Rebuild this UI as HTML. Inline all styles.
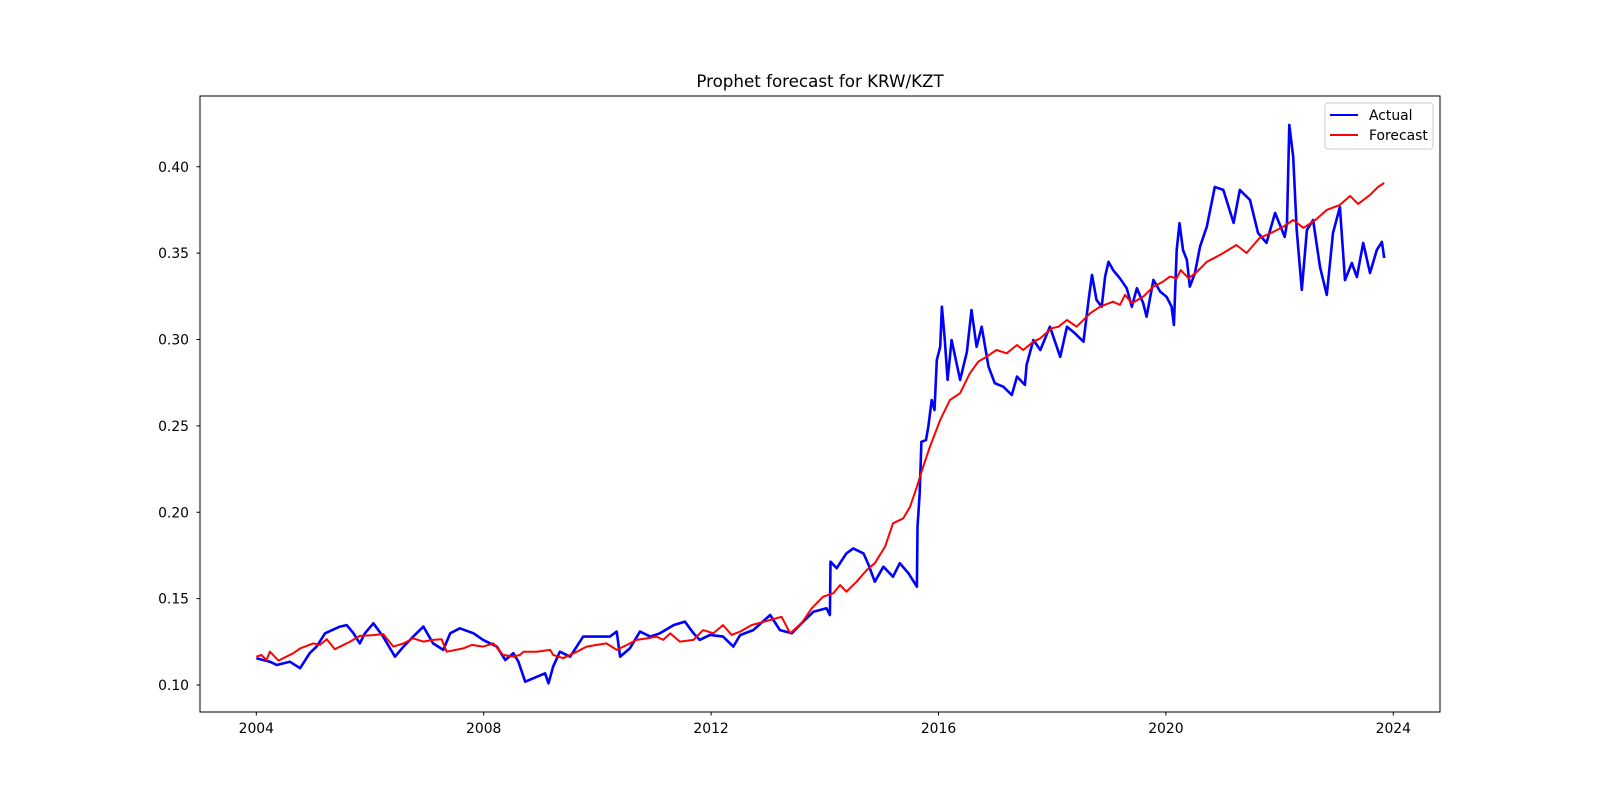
<!DOCTYPE html>
<html><head><meta charset="utf-8"><style>
html,body{margin:0;padding:0;background:#fff;}
svg text{font-family:"DejaVu Sans","Liberation Sans",sans-serif;fill:#000;}
</style></head><body>
<svg id="chart" width="1600" height="800" xmlns="http://www.w3.org/2000/svg">
<rect width="1600" height="800" fill="#fff"/>
<text x="820" y="87" font-size="16.7" text-anchor="middle">Prophet forecast for KRW/KZT</text>
<g id="plot"></g>
<rect x="200" y="96" width="1240" height="616" fill="none" stroke="#000" stroke-width="1"/>
<g id="axes"></g>
<g>
<rect x="1325" y="103" width="108" height="46" rx="3" fill="#fff" fill-opacity="0.8" stroke="#ccc"/>
<line x1="1330" y1="115" x2="1358" y2="115" stroke="#0000ff" stroke-width="2"/>
<text x="1369" y="120" font-size="13.9">Actual</text>
<line x1="1330" y1="135" x2="1358" y2="135" stroke="#ff0000" stroke-width="2"/>
<text x="1369" y="140" font-size="13.9">Forecast</text>
</g>
</svg>
<script>
const actualYears=[2004.00,2004.24,2004.36,2004.59,2004.77,2004.94,2005.06,2005.21,2005.47,2005.59,2005.71,2005.82,2005.91,2006.06,2006.23,2006.44,2006.59,2006.76,2006.94,2007.11,2007.29,2007.41,2007.58,2007.82,2007.99,2008.23,2008.38,2008.52,2008.61,2008.73,2009.08,2009.14,2009.22,2009.34,2009.52,2009.75,2009.99,2010.22,2010.34,2010.40,2010.57,2010.75,2010.93,2011.10,2011.34,2011.54,2011.69,2011.80,2011.98,2012.21,2012.39,2012.51,2012.74,2013.04,2013.21,2013.42,2013.59,2013.80,2014.03,2014.09,2014.10,2014.21,2014.38,2014.50,2014.68,2014.77,2014.88,2015.03,2015.20,2015.32,2015.47,2015.62,2015.63,2015.67,2015.70,2015.78,2015.82,2015.88,2015.93,2015.97,2016.03,2016.06,2016.11,2016.16,2016.23,2016.38,2016.50,2016.58,2016.67,2016.76,2016.88,2016.99,2017.14,2017.29,2017.38,2017.52,2017.55,2017.67,2017.79,2017.96,2018.14,2018.26,2018.40,2018.55,2018.64,2018.70,2018.78,2018.87,2018.93,2018.99,2019.07,2019.19,2019.31,2019.40,2019.49,2019.60,2019.66,2019.78,2019.90,2020.01,2020.10,2020.14,2020.19,2020.24,2020.30,2020.37,2020.42,2020.51,2020.60,2020.72,2020.86,2021.01,2021.19,2021.30,2021.48,2021.62,2021.77,2021.92,2022.09,2022.13,2022.17,2022.24,2022.30,2022.39,2022.48,2022.59,2022.71,2022.83,2022.94,2023.06,2023.15,2023.27,2023.36,2023.47,2023.59,2023.71,2023.80,2023.84];
const actualValues=[.1155,.1135,.1116,.1135,.1097,.1184,.1222,.1299,.1338,.1347,.1299,.1241,.1299,.1357,.1280,.1164,.1222,.1280,.1338,.1241,.1203,.1299,.1328,.1299,.1261,.1222,.1145,.1184,.1135,.1019,.1068,.1010,.1106,.1193,.1164,.1280,.1280,.1280,.1309,.1164,.1212,.1309,.1280,.1299,.1347,.1367,.1299,.1261,.1290,.1280,.1222,.1289,.1318,.1405,.1318,.1299,.1357,.1424,.1444,.1405,.1714,.1676,.1762,.1791,.1762,.1695,.1598,.1685,.1627,.1705,.1647,.1569,.1916,.2110,.2408,.2418,.2495,.2650,.2592,.2881,.2958,.3190,.2997,.2766,.2997,.2766,.2929,.3171,.2958,.3074,.2843,.2747,.2727,.2679,.2785,.2737,.2853,.2997,.2939,.3074,.2900,.3074,.3036,.2987,.3229,.3374,.3229,.3190,.3364,.3450,.3403,.3354,.3297,.3190,.3297,.3210,.3132,.3345,.3277,.3248,.3190,.3084,.3518,.3673,.3518,.3460,.3306,.3383,.3537,.3653,.3883,.3866,.3675,.3866,.3808,.3617,.3559,.3733,.3594,.3675,.4242,.4057,.3634,.3287,.3634,.3692,.3420,.3258,.3617,.3767,.3344,.3443,.3362,.3559,.3385,.3518,.3565,.3472];
const forecastYears=[2004.00,2004.09,2004.18,2004.24,2004.39,2004.65,2004.77,2005.00,2005.12,2005.24,2005.38,2005.65,2005.82,2006.06,2006.23,2006.41,2006.59,2006.76,2006.94,2007.11,2007.26,2007.35,2007.64,2007.79,2007.99,2008.17,2008.34,2008.52,2008.64,2008.70,2008.93,2009.17,2009.22,2009.40,2009.64,2009.81,2009.99,2010.16,2010.34,2010.52,2010.69,2010.87,2011.04,2011.16,2011.28,2011.45,2011.69,2011.86,2012.04,2012.21,2012.36,2012.51,2012.71,2013.04,2013.24,2013.39,2013.59,2013.77,2013.97,2014.15,2014.27,2014.38,2014.56,2014.74,2014.88,2015.06,2015.20,2015.38,2015.50,2015.62,2015.73,2015.85,2016.03,2016.20,2016.38,2016.55,2016.70,2016.85,2017.02,2017.20,2017.38,2017.49,2017.67,2017.79,2017.99,2018.11,2018.26,2018.43,2018.67,2018.84,2019.07,2019.19,2019.28,2019.40,2019.60,2019.78,2019.95,2020.07,2020.19,2020.26,2020.40,2020.55,2020.72,2020.89,2021.01,2021.24,2021.42,2021.65,2021.89,2022.06,2022.24,2022.42,2022.63,2022.83,2023.06,2023.24,2023.38,2023.59,2023.73,2023.84];
const forecastValues=[.1164,.1174,.1145,.1193,.1141,.1184,.1212,.1241,.1232,.1265,.1207,.1251,.1284,.1289,.1295,.1222,.1241,.1270,.1251,.1261,.1265,.1193,.1212,.1232,.1222,.1241,.1174,.1164,.1174,.1193,.1193,.1203,.1174,.1155,.1193,.1222,.1232,.1241,.1203,.1232,.1261,.1270,.1280,.1261,.1299,.1251,.1261,.1318,.1299,.1347,.1290,.1309,.1347,.1376,.1395,.1299,.1357,.1444,.1511,.1531,.1579,.1540,.1598,.1666,.1705,.1801,.1936,.1965,.2032,.2148,.2264,.2380,.2534,.2650,.2689,.2804,.2872,.2901,.2939,.2920,.2968,.2939,.2987,.3007,.3065,.3074,.3113,.3074,.3152,.3190,.3219,.3200,.3258,.3210,.3248,.3306,.3335,.3364,.3354,.3402,.3354,.3393,.3450,.3479,.3501,.3547,.3501,.3588,.3623,.3652,.3692,.3646,.3692,.3750,.3779,.3831,.3785,.3837,.3883,.3906];
const xTicks=[2004,2008,2012,2016,2020,2024];
const yTicks=[0.10,0.15,0.20,0.25,0.30,0.35,0.40];
const yTickLabels=["0.10","0.15","0.20","0.25","0.30","0.35","0.40"];

const NS="http://www.w3.org/2000/svg";
function xs(t){return 256.3+(t-2004)*56.85;}
function ys(v){return 685-(v-0.10)*1727.5;}
const plot=document.getElementById('plot');
const axes=document.getElementById('axes');
function series(years,vals,color,width,name){
  const p=document.createElementNS(NS,'path');
  let d='';
  for(let i=0;i<years.length;i++){d+=(i?'L':'M')+xs(years[i]).toFixed(1)+' '+ys(vals[i]).toFixed(1);}
  p.setAttribute('d',d);p.setAttribute('fill','none');p.setAttribute('stroke',color);
  p.setAttribute('stroke-width',width);p.setAttribute('stroke-linejoin','round');
  
  
  plot.appendChild(p);
}
series(actualYears,actualValues,'#0000ff','2.6','actual-line');
series(forecastYears,forecastValues,'#ff0000','2','forecast-line');
xTicks.forEach(t=>{
  const x=xs(t);
  const l=document.createElementNS(NS,'line');
  l.setAttribute('x1',x);l.setAttribute('x2',x);l.setAttribute('y1',712);l.setAttribute('y2',715.5);l.setAttribute('stroke','#000');
  
  
  axes.appendChild(l);
  const tx=document.createElementNS(NS,'text');
  tx.setAttribute('x',x);tx.setAttribute('y',733);tx.setAttribute('font-size','13.9');tx.setAttribute('text-anchor','middle');
  tx.textContent=String(t);
  
  
  axes.appendChild(tx);
});
yTicks.forEach((v,i)=>{
  const y=ys(v);
  const l=document.createElementNS(NS,'line');
  l.setAttribute('x1',196.5);l.setAttribute('x2',200);l.setAttribute('y1',y);l.setAttribute('y2',y);l.setAttribute('stroke','#000');
  
  
  axes.appendChild(l);
  const tx=document.createElementNS(NS,'text');
  tx.setAttribute('x',189);tx.setAttribute('y',y+5);tx.setAttribute('font-size','13.9');tx.setAttribute('text-anchor','end');
  tx.textContent=yTickLabels[i];
  
  
  axes.appendChild(tx);
});
</script>
</body></html>
